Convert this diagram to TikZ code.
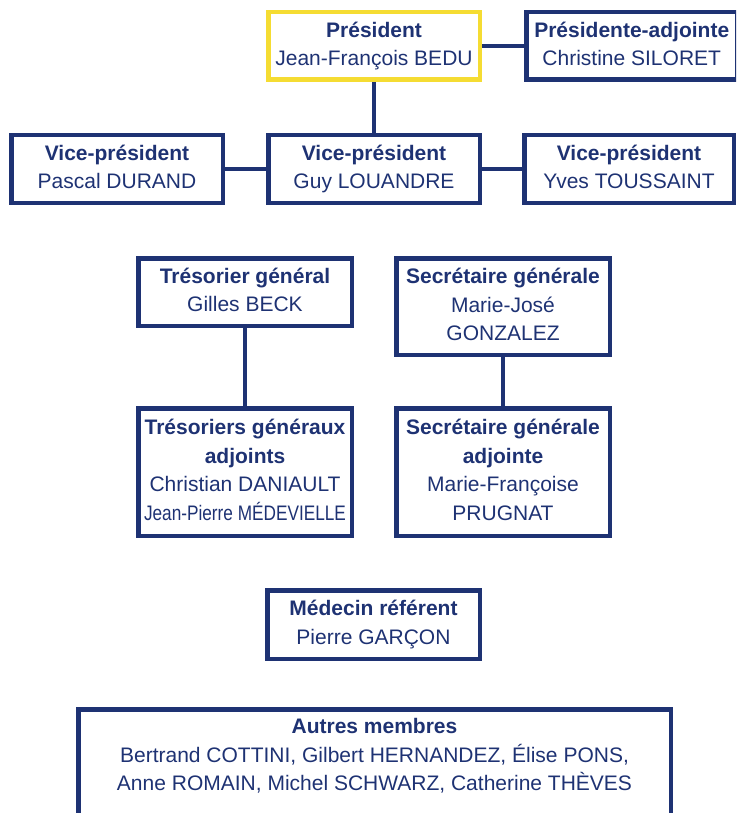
\documentclass[tikz,border=0pt]{standalone}
\usepackage{fontspec}
\setmainfont{Liberation Sans}
\usepackage{graphicx}
\usetikzlibrary{positioning}

\definecolor{bleu}{RGB}{30,50,115}
\definecolor{jaune}{RGB}{245,220,50}

\begin{document}
\begin{tikzpicture}[x=1pt, y=-1pt,
        poste/.style={draw=bleu, line width=4.5pt, text=bleu, align=center,
            minimum width=211.5pt, minimum height=67.5pt, inner sep=2pt,
            font=\fontsize{21}{28.5}\selectfont, execute at end node=\vphantom{gy}},
        lien/.style={draw=bleu, line width=4.5pt}]
        \useasboundingbox (0,0) rectangle (736,813);
        \clip (0,0) rectangle (736,813);

        % bureau
        \node (pres) [poste, draw=jaune] at (374,46) {\textbf{Président}\\Jean-François BEDU};
        \node (adj) [poste, minimum width=211pt, right=42pt of pres] {\textbf{Présidente-adjointe}\\Christine SILORET};
        \node (guy) [poste, below=51pt of pres] {\textbf{Vice-président}\\Guy LOUANDRE};
        \node (pascal) [poste, left=41pt of guy] {\textbf{Vice-président}\\Pascal DURAND};
        \node (yves) [poste, minimum width=209.5pt, right=40pt of guy] {\textbf{Vice-président}\\Yves TOUSSAINT};

        % tresorerie et secretariat
        \node (treso) [poste, minimum width=213.5pt, below=51pt of guy, xshift=-129pt] {\textbf{Trésorier général}\\Gilles BECK};
        \node (secr) [poste, minimum width=213.5pt, minimum height=96.5pt, right=40pt of treso.north east, anchor=north west] {\textbf{Secrétaire générale}\\Marie-José\\GONZALEZ};
        \node (tresadj) [poste, minimum width=213.5pt, minimum height=127.5pt, below=78pt of treso] {\textbf{Trésoriers généraux}\\\textbf{adjoints}\\Christian DANIAULT\\\scalebox{0.82}[1]{Jean-Pierre MÉDEVIELLE}};
        \node (secradj) [poste, minimum width=213.5pt, minimum height=127.5pt, below=49pt of secr] {\textbf{Secrétaire générale}\\\textbf{adjointe}\\Marie-Françoise\\PRUGNAT};

        \node (medecin) [poste, minimum width=212.5pt, minimum height=68.5pt] at (373.5,624.5) {\textbf{Médecin référent}\\Pierre GARÇON};
        \node (autres) [poste, minimum width=592.5pt, minimum height=124pt, anchor=north] at (374.5,707) {\textbf{Autres membres}\\Bertrand COTTINI, Gilbert HERNANDEZ, Élise PONS,\\Anne ROMAIN, Michel SCHWARZ, Catherine THÈVES\\\mbox{}};

        \draw[lien] (pres) -- (adj);
        \draw[lien] (pres) -- (guy);
        \draw[lien] (pascal) -- (guy);
        \draw[lien] (guy) -- (yves);
        \draw[lien] (treso) -- (tresadj);
        \draw[lien] (secr) -- (secradj);
\end{tikzpicture}
\end{document}
